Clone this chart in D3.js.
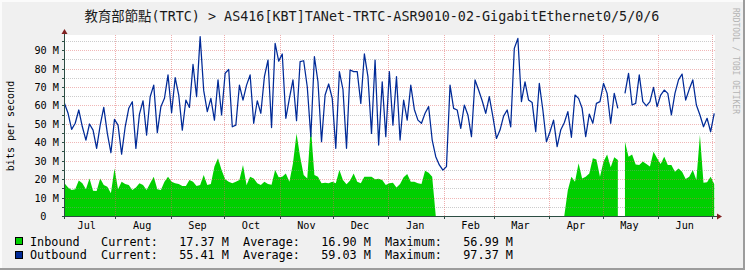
<!DOCTYPE html>
<html><head><meta charset="utf-8">
<script src="https://cdn.jsdelivr.net/npm/d3@7"></script>
<style>html,body{margin:0;padding:0;background:#f0f0f0;} svg{display:block}</style>
</head><body>
<svg id="c" width="745" height="270"></svg>
<script>
// ---------- data ----------
const titleText = "教育部節點(TRTC) > AS416[KBT]TANet-TRTC-ASR9010-02-GigabitEthernet0/5/0/6";
const startDate = new Date(2022, 6, 3, 12);
const stepDays = 2;
// Mbit/s, one sample every 2 days (null = no data)
const inbound = [
17.7,15.5,14.1,14.5,19.2,17.7,14.5,20.4,13.7,13.6,
20.4,16.8,15.9,12.3,25.8,14.5,18.6,17.4,16.8,14.1,
15.4,17.7,16.8,14.1,17.7,21.3,14.5,14.1,18.6,21.3,
18.6,17.7,17.4,16.3,16.3,19.5,18.6,16.3,16.8,22.2,
16.8,17.4,26.8,31.3,24.9,19.9,18.6,17.7,18.6,19.5,
27.7,16.8,21.3,20.4,17.7,16.8,18.6,17.4,17,25,
21,21.3,23.1,18.6,28.6,44.8,32.2,22.2,20.4,48.4,
22.2,21.3,17.7,18.1,17.7,18.6,17.7,24.9,19.5,17.2,
19.2,23.1,18.6,17.7,21.3,21.3,21.3,19.9,20.2,19.5,
16.8,17.7,18.1,15.5,17.4,21,22.8,18.6,18.6,17.7,
17.4,24.6,23.5,21.3,0,0,0,0,0,0,
0,0,0,0,0,0,0,0,0,0,
0,0,0,0,0,0,0,0,0,0,
0,0,0,0,0,0,0,0,0,0,
0,14.1,21.3,18.6,28.6,20.4,21.3,23.1,31.3,30.7,
21.3,29.5,33.3,26.4,31.8,30.4,null,40.3,32.2,33.3,
28,27.7,29.5,28.2,26.8,34.9,31.3,28.2,32.2,27.7,
27.7,24,25.8,24,20.1,21.3,24.9,19.5,43.9,18.1,
18.3,21.3,17.4
];
const outbound = [
61,55.7,47,50.3,57.5,48.4,41.2,49.9,46.6,36.7,
49.3,58.9,44.8,34.3,52.4,49.3,33.6,48.4,58.4,62,
36.7,55.3,62.5,43.9,64.7,71,45.2,59.3,63.8,76.5,
56,75,65.6,46.6,62.9,58.9,82.2,64.7,97.3,68,
56.6,63.8,52,73.8,54.8,77.4,79.5,48.4,49.3,71,
62.9,71,76.5,50.3,62.5,55.7,75.6,84.6,48,93.6,
84,87.9,53,63.8,73.8,51.7,83.7,84.2,70.1,43,
86.4,72.8,40.3,65.6,71.6,63.8,36.7,78.3,68.7,36.7,
79.2,78.3,78.3,61.1,87.9,75.6,44.8,84.6,38.5,72.8,
43,78.3,49.3,75.6,41.2,62.9,52,71,57.8,52,
50.3,55.7,59.3,41.2,32.2,27.7,24.9,26.8,71,58.4,
57.5,47.5,60.2,54.8,43,73.8,68.3,62.5,55.7,64.7,
53.9,42.1,46.6,54.2,57.5,48.4,90.9,96.3,62,72.8,
62.9,61.5,45.7,71.9,57.5,40.3,45.7,52,37.6,46.6,
50.6,56.6,42.7,65.6,63.8,58.4,43,55.3,50.3,61.1,
62,71.9,66.5,50.3,66.5,58.4,null,66.5,77.4,60.2,
61.1,76.5,62,59.7,62,69.8,59.3,65.6,68.3,66.5,
54.8,66.5,73.8,77,62.9,68.7,73.8,60.2,54.8,48.4,
53,45.7,55.7
];
const monthLabels = ["Jul","Aug","Sep","Oct","Nov","Dec","Jan","Feb","Mar","Apr","May","Jun"];
const yTickValues = [0,10,20,30,40,50,60,70,80,90];
const yTickLabels = ["0","10 M","20 M","30 M","40 M","50 M","60 M","70 M","80 M","90 M"];
const yAxisTitle = "bits per second";
const legendNames = ["Inbound","Outbound"];
const legendCurrent = ["17.37 M","55.41 M"];
const legendAverage = ["16.90 M","59.03 M"];
const legendMaximum = ["56.99 M","97.37 M"];
const seriesColors = ["#00CF00","#002A97"];
const watermark = "RRDTOOL / TOBI OETIKER";

// ---------- drawing ----------
const svg = d3.select("#c");
const W = 745, H = 270;
const mono = "'DejaVu Sans Mono','Noto Sans CJK TC',monospace";
const endDate = d3.timeDay.offset(startDate, 365);
const x = d3.scaleTime().domain([startDate, endDate]).range([64.5, 716]);
const y = d3.scaleLinear().domain([0, 97.9]).range([216, 35.5]);
const X0 = 64, X1 = 715, Y0 = 216, Y1 = 35;

// background + 3d border
svg.append("rect").attr("width", W).attr("height", H).attr("fill", "#f0f0f0");
svg.append("rect").attr("x",0).attr("y",0).attr("width",W).attr("height",2).attr("fill","#fbfbfb");
svg.append("rect").attr("x",0).attr("y",0).attr("width",2).attr("height",H).attr("fill","#fbfbfb");
svg.append("rect").attr("x",0).attr("y",H-2).attr("width",W).attr("height",2).attr("fill","#9c9c9c");
svg.append("rect").attr("x",W-2).attr("y",0).attr("width",2).attr("height",H).attr("fill","#9c9c9c");

// canvas
svg.append("rect").attr("x", X0).attr("y", Y1).attr("width", X1 - X0).attr("height", Y0 - Y1).attr("fill", "#ffffff");

const pts = (arr) => arr.map((v, i) => ({ t: d3.timeDay.offset(startDate, i * stepDays), v }));
const inPts = pts(inbound), outPts = pts(outbound);

// inbound area
const area = d3.area().defined(d => d.v != null)
  .x(d => x(d.t)).y0(y(0)).y1(d => y(d.v));
svg.append("path").datum(inPts).attr("d", area).attr("fill", seriesColors[0]);

// grid
const g = svg.append("g").attr("shape-rendering", "crispEdges");
d3.range(5, 100, 10).forEach(v => {
  const yy = Math.round(y(v)) + 0.5;
  if (yy < Y1) return;
  g.append("line").attr("x1", X0).attr("x2", X1).attr("y1", yy).attr("y2", yy)
    .attr("stroke", "#8f8f8f").attr("stroke-opacity", 0.45).attr("stroke-dasharray", "1,1");
});
yTickValues.filter(v => v > 0).forEach(v => {
  const yy = Math.round(y(v)) + 0.5;
  g.append("line").attr("x1", X0).attr("x2", X1).attr("y1", yy).attr("y2", yy)
    .attr("stroke", "#de5f5f").attr("stroke-opacity", 0.45).attr("stroke-dasharray", "1,1");
});
const monthStarts = d3.timeMonth.range(d3.timeMonth.ceil(startDate), endDate);
monthStarts.forEach(m => {
  const xx = Math.round(x(m)) + 0.5;
  g.append("line").attr("x1", xx).attr("x2", xx).attr("y1", Y1).attr("y2", Y0)
    .attr("stroke", "#de5f5f").attr("stroke-opacity", 0.5).attr("stroke-dasharray", "1,1");
});

// outbound line
const line = d3.line().defined(d => d.v != null).x(d => x(d.t)).y(d => y(d.v));
svg.append("path").datum(outPts).attr("d", line).attr("fill", "none")
  .attr("stroke", seriesColors[1]).attr("stroke-width", 1.25).attr("stroke-linejoin", "round");

// axes
const axisColor = "#2c4d43";
const a = svg.append("g").attr("shape-rendering", "crispEdges");
a.append("line").attr("x1", 62).attr("x2", 717).attr("y1", Y0 + 0.5).attr("y2", Y0 + 0.5).attr("stroke", axisColor);
a.append("line").attr("x1", X0 + 0.5).attr("x2", X0 + 0.5).attr("y1", Y0 + 3).attr("y2", 33).attr("stroke", axisColor);
d3.range(5, 100, 5).forEach(v => {
  const yy = Math.round(y(v)) + 0.5;
  if (yy < Y1) return;
  a.append("line").attr("x1", X0 - 2).attr("x2", X0).attr("y1", yy).attr("y2", yy).attr("stroke", axisColor);
});
monthStarts.forEach(m => {
  const xx = Math.round(x(m)) + 0.5;
  a.append("line").attr("x1", xx).attr("x2", xx).attr("y1", Y0).attr("y2", Y0 + 3).attr("stroke", axisColor);
});
// arrows
svg.append("path").attr("d", "M64.5,29 L61.5,34 L67.5,34 Z").attr("fill", "#7f1f1f");
svg.append("path").attr("d", "M722,216.5 L717,213.5 L717,219.5 Z").attr("fill", "#7f1f1f");

// y tick labels
yTickValues.forEach((v, i) => {
  svg.append("text").attr("x", v === 0 ? 46.5 : 59).attr("y", Math.round(y(v)) + 0.5)
    .attr("dy", "0.36em").attr("text-anchor", "end")
    .attr("font-family", mono).attr("font-size", 10.2).attr("fill", "#000")
    .text(yTickLabels[i]);
});
// month labels
const labelMonths = d3.timeMonth.range(d3.timeMonth.floor(startDate), endDate);
labelMonths.forEach((m, i) => {
  const xx = x(d3.timeDay.offset(m, 15));
  if (xx > X1 || i >= monthLabels.length) return;
  svg.append("text").attr("x", xx).attr("y", 229).attr("text-anchor", "middle")
    .attr("font-family", mono).attr("font-size", 10.2).attr("fill", "#000")
    .text(monthLabels[i]);
});
// y-axis title
svg.append("text").attr("transform", "translate(13.5,126) rotate(-90)").attr("text-anchor", "middle")
  .attr("font-family", mono).attr("font-size", 10).attr("fill", "#000").text(yAxisTitle);

// title
svg.append("text").attr("x", 372).attr("y", 20.5).attr("text-anchor", "middle")
  .attr("font-family", mono).attr("font-size", 13.4).attr("fill", "#1a1a1a").text(titleText);

// watermark
svg.append("text").attr("transform", "translate(733,8) rotate(90)").attr("text-anchor", "start")
  .attr("font-family", mono).attr("font-size", 8).attr("fill", "#b4b4b4").text(watermark);

// legend
legendNames.forEach((n, i) => {
  const by = 237.5 + i * 14;
  svg.append("rect").attr("x", 15.5).attr("y", by).attr("width", 7).attr("height", 7)
    .attr("fill", seriesColors[i]).attr("stroke", "#000").attr("stroke-width", 1);
  const s = n.padEnd(10) + "Current:" + legendCurrent[i].padStart(10) +
    "  Average:" + legendAverage[i].padStart(10) + "  Maximum:" + legendMaximum[i].padStart(10);
  svg.append("text").attr("x", 30).attr("y", 245.8 + i * 13.4)
    .attr("xml:space", "preserve").style("white-space", "pre")
    .attr("font-family", mono).attr("font-size", 11.8).attr("fill", "#000").text(s);
});
</script>
</body></html>
